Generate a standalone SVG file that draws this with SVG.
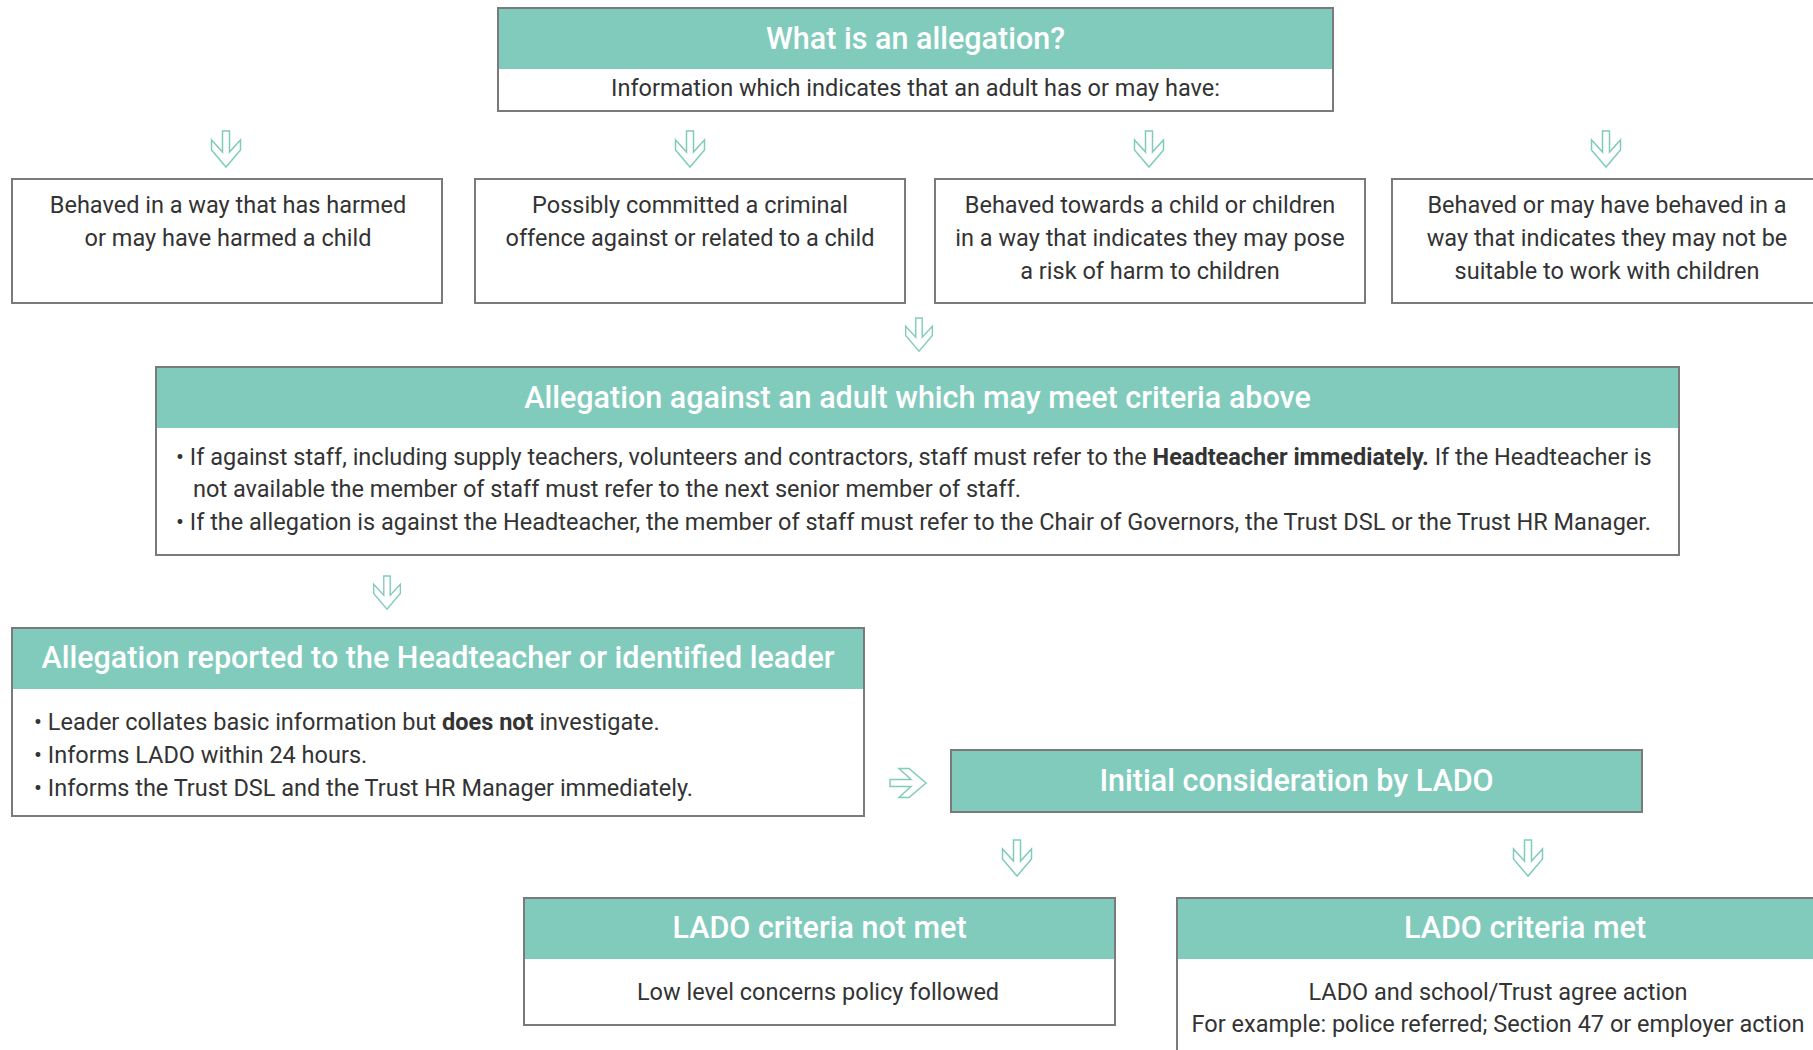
<svg xmlns="http://www.w3.org/2000/svg" width="1813" height="1050" viewBox="0 0 1813 1050">
<style>
.box{fill:#ffffff;stroke:#7a7a7a;stroke-width:2}
.hdr{fill:#81cbbd}
.ht{font-family:Roboto,"Liberation Sans",sans-serif;font-weight:500;font-size:30.5px;fill:#ffffff;text-anchor:middle}
.bt{font-family:Roboto,"Liberation Sans",sans-serif;font-size:23.5px;fill:#333333}
.c{text-anchor:middle}
.b{font-weight:700}
.arr{fill:#ffffff;stroke:#81cbbd;stroke-width:1.5;stroke-linejoin:miter}
</style>
<defs>
<path id="down" d="M-3.5,0 H3.5 V21 L14.5,9 V19 L0,36 L-14.5,19 V9 L-3.5,21 Z"/>
</defs>

<g id="connectors">
<use href="#down" class="arr" x="226" y="131"/>
<use href="#down" class="arr" x="690" y="131"/>
<use href="#down" class="arr" x="1149" y="131"/>
<use href="#down" class="arr" x="1606" y="131"/>
<use href="#down" class="arr" x="919" y="318" transform="translate(919,318) scale(0.92) translate(-919,-318)"/>
<use href="#down" class="arr" x="387" y="576" transform="translate(387,576) scale(0.92) translate(-387,-576)"/>
<use href="#down" class="arr" transform="translate(890,783) rotate(-90)"/>
<use href="#down" class="arr" x="1017" y="840"/>
<use href="#down" class="arr" x="1528" y="840"/>
</g>

<g id="node-what">
<rect class="box" x="498" y="8" width="835" height="103"/>
<rect class="hdr" x="499" y="9" width="833" height="60"/>
<text class="ht" x="915.5" y="49">What is an allegation?</text>
<text class="bt c" x="915.5" y="96">Information which indicates that an adult has or may have:</text>
</g>

<g id="node-harmed">
<rect class="box" x="12" y="179" width="430" height="124"/>
<text class="bt c" x="228" y="213">Behaved in a way that has harmed</text>
<text class="bt c" x="228" y="246">or may have harmed a child</text>
</g>

<g id="node-criminal">
<rect class="box" x="475" y="179" width="430" height="124"/>
<text class="bt c" x="690" y="213">Possibly committed a criminal</text>
<text class="bt c" x="690" y="246">offence against or related to a child</text>
</g>

<g id="node-towards">
<rect class="box" x="935" y="179" width="430" height="124"/>
<text class="bt c" x="1150" y="213">Behaved towards a child or children</text>
<text class="bt c" x="1150" y="246">in a way that indicates they may pose</text>
<text class="bt c" x="1150" y="279">a risk of harm to children</text>
</g>

<g id="node-suitable">
<rect class="box" x="1392" y="179" width="430" height="124"/>
<text class="bt c" x="1607" y="213">Behaved or may have behaved in a</text>
<text class="bt c" x="1607" y="246">way that indicates they may not be</text>
<text class="bt c" x="1607" y="279">suitable to work with children</text>
</g>

<g id="node-allegation">
<rect class="box" x="156" y="367" width="1523" height="188"/>
<rect class="hdr" x="157" y="368" width="1521" height="60"/>
<text class="ht" x="917.5" y="408">Allegation against an adult which may meet criteria above</text>
<text class="bt" x="176" y="465">• If against staff, including supply teachers, volunteers and contractors, staff must refer to the <tspan class="b">Headteacher immediately.</tspan> If the Headteacher is</text>
<text class="bt" x="193" y="497">not available the member of staff must refer to the next senior member of staff.</text>
<text class="bt" x="176" y="530">• If the allegation is against the Headteacher, the member of staff must refer to the Chair of Governors, the Trust DSL or the Trust HR Manager.</text>
</g>

<g id="node-reported">
<rect class="box" x="12" y="628" width="852" height="188"/>
<rect class="hdr" x="13" y="629" width="850" height="60"/>
<text class="ht" x="438" y="668">Allegation reported to the Headteacher or identified leader</text>
<text class="bt" x="34" y="730">• Leader collates basic information but <tspan class="b">does not</tspan> investigate.</text>
<text class="bt" x="34" y="763">• Informs LADO within 24 hours.</text>
<text class="bt" x="34" y="796">• Informs the Trust DSL and the Trust HR Manager immediately.</text>
</g>

<g id="node-initial">
<rect class="box" x="951" y="750" width="691" height="62"/>
<rect class="hdr" x="952" y="751" width="689" height="60"/>
<text class="ht" x="1296.5" y="791">Initial consideration by LADO</text>
</g>

<g id="node-notmet">
<rect class="box" x="524" y="898" width="591" height="127"/>
<rect class="hdr" x="525" y="899" width="589" height="60"/>
<text class="ht" x="819.5" y="938">LADO criteria not met</text>
<text class="bt c" x="818" y="1000">Low level concerns policy followed</text>
</g>

<g id="node-met">
<rect class="box" x="1177" y="898" width="696" height="170"/>
<rect class="hdr" x="1178" y="899" width="694" height="60"/>
<text class="ht" x="1525" y="938">LADO criteria met</text>
<text class="bt c" x="1498" y="1000">LADO and school/Trust agree action</text>
<text class="bt c" x="1498" y="1032">For example: police referred; Section 47 or employer action</text>
</g>
</svg>
